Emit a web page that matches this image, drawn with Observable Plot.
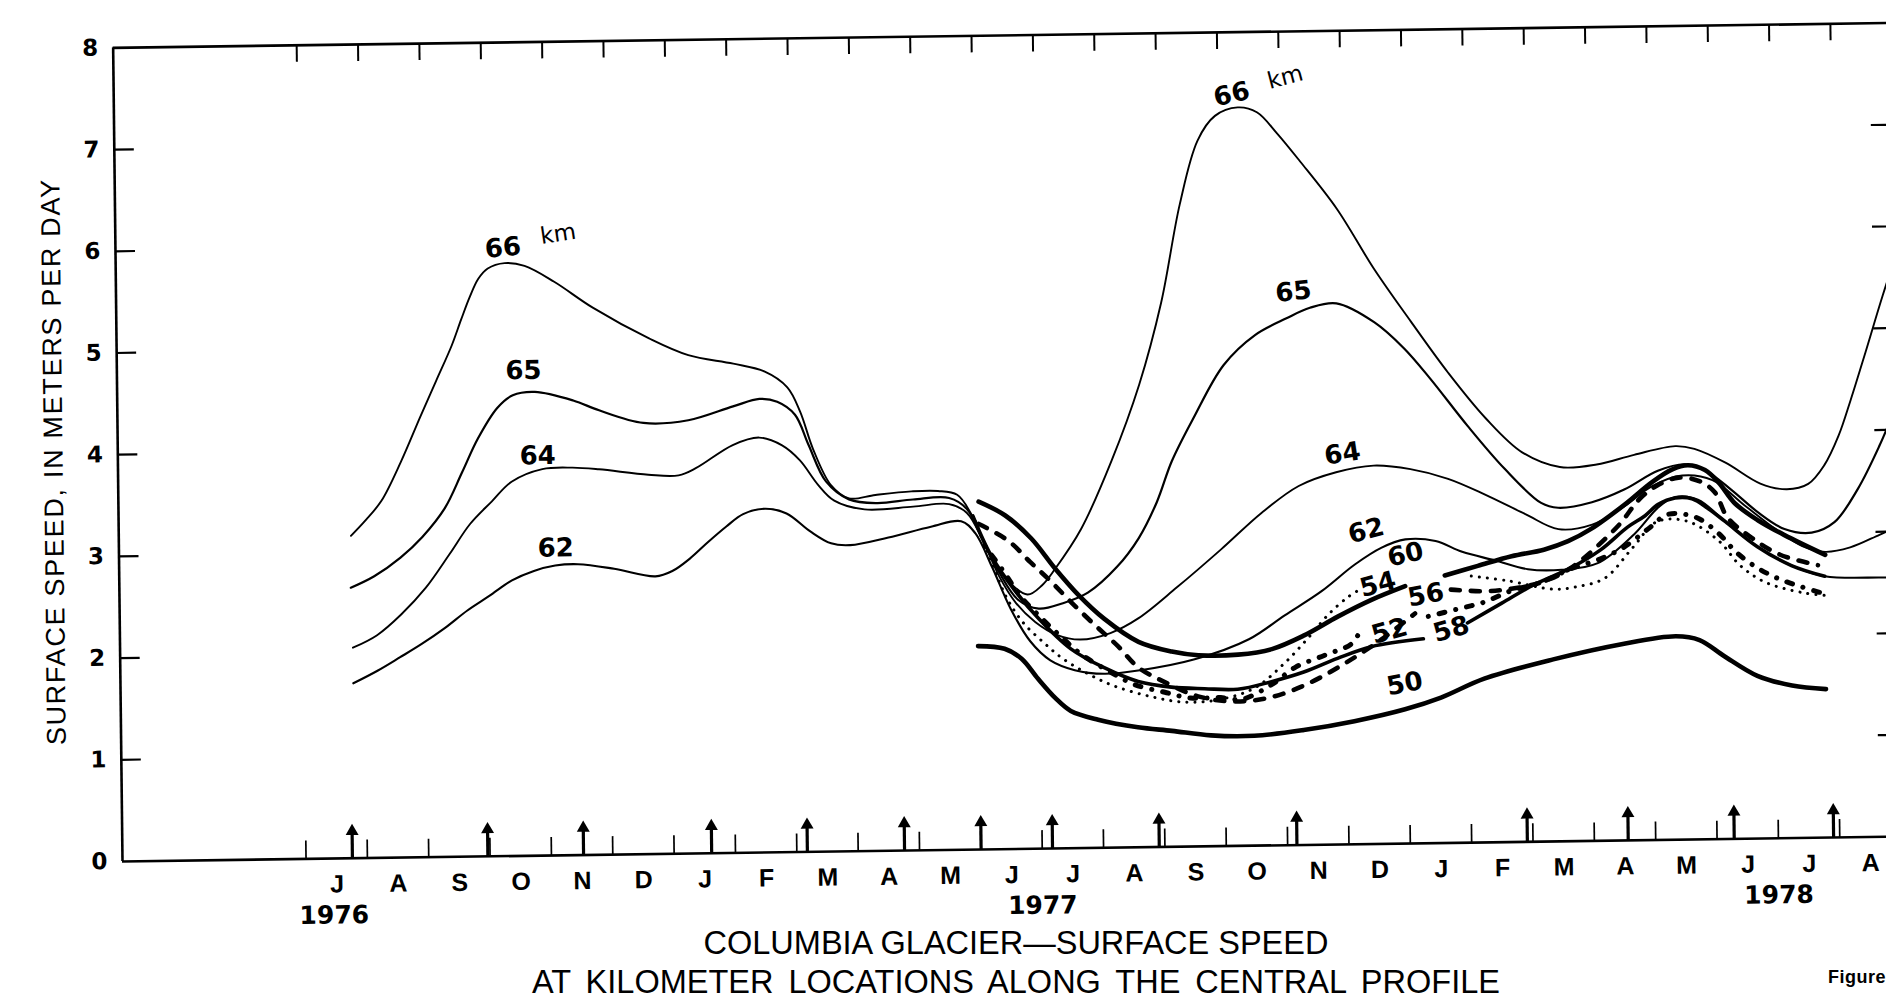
<!DOCTYPE html>
<html><head><meta charset="utf-8">
<script src="https://cdn.jsdelivr.net/npm/d3@7"></script>
<script src="https://cdn.jsdelivr.net/npm/@observablehq/plot@0.6"></script>
<style>
html,body{margin:0;padding:0;background:#fff;overflow:hidden;width:1886px;height:998px;}
body{position:relative;font-family:"Liberation Sans",Arial,Helvetica,sans-serif;color:#000;}
#wrap{position:absolute;left:0;top:0;width:1924px;height:940px;transform-origin:122px 861px;transform:matrix(1,-0.014,0.0115,1,0,0);}
#chart svg{display:block;max-width:none;}
.cap{position:absolute;left:416px;width:1200px;text-align:center;font-size:32.5px;line-height:30px;white-space:nowrap;}
#cap1{top:928px;}
#cap2{top:967px;word-spacing:6px;}
#fig{position:absolute;left:1828px;top:968px;font-size:18px;font-weight:bold;line-height:18px;letter-spacing:0.5px;white-space:nowrap;}
</style></head>
<body>
<div id="wrap"><div id="chart"></div></div>
<div class="cap" id="cap1">COLUMBIA GLACIER—SURFACE SPEED</div>
<div class="cap" id="cap2">AT KILOMETER LOCATIONS ALONG THE CENTRAL PROFILE</div>
<div id="fig">Figure</div>
<script>
// ---- data: [decimal year, surface speed m/day] ----
const km66 = [[1976.566,3.17],[1976.586,3.32],[1976.608,3.51],[1976.635,3.89],[1976.662,4.33],[1976.684,4.68],[1976.706,5.03],[1976.719,5.28],[1976.731,5.50],[1976.743,5.68],[1976.756,5.78],[1976.779,5.83],[1976.806,5.80],[1976.846,5.64],[1976.898,5.38],[1976.974,5.07],[1977.027,4.90],[1977.088,4.81],[1977.130,4.73],[1977.161,4.57],[1977.178,4.33],[1977.195,3.96],[1977.219,3.60],[1977.243,3.47],[1977.279,3.50],[1977.328,3.53],[1977.364,3.53],[1977.390,3.49],[1977.408,3.31],[1977.430,2.95],[1977.455,2.66],[1977.484,2.50],[1977.504,2.59],[1977.522,2.75],[1977.558,3.14],[1977.600,3.80],[1977.639,4.55],[1977.670,5.35],[1977.697,6.32],[1977.722,6.94],[1977.746,7.18],[1977.777,7.26],[1977.803,7.21],[1977.830,7.00],[1977.861,6.72],[1977.910,6.25],[1977.960,5.65],[1978.009,5.13],[1978.059,4.62],[1978.109,4.17],[1978.158,3.83],[1978.209,3.68],[1978.259,3.70],[1978.310,3.79],[1978.366,3.87],[1978.392,3.84],[1978.434,3.70],[1978.481,3.49],[1978.517,3.43],[1978.546,3.48],[1978.568,3.66],[1978.588,3.95],[1978.605,4.30],[1978.626,4.77],[1978.650,5.32],[1978.674,5.83]];
const km65 = [[1976.565,2.66],[1976.597,2.77],[1976.633,2.95],[1976.663,3.15],[1976.694,3.43],[1976.718,3.78],[1976.740,4.11],[1976.767,4.41],[1976.788,4.53],[1976.818,4.56],[1976.870,4.47],[1976.905,4.37],[1976.965,4.24],[1977.026,4.26],[1977.087,4.39],[1977.123,4.46],[1977.147,4.43],[1977.171,4.30],[1977.189,4.00],[1977.212,3.64],[1977.243,3.46],[1977.281,3.42],[1977.330,3.45],[1977.379,3.46],[1977.403,3.35],[1977.424,3.05],[1977.446,2.72],[1977.471,2.45],[1977.499,2.36],[1977.532,2.41],[1977.566,2.51],[1977.606,2.76],[1977.636,3.04],[1977.661,3.39],[1977.682,3.79],[1977.712,4.21],[1977.754,4.73],[1977.797,5.02],[1977.840,5.18],[1977.872,5.28],[1977.908,5.32],[1977.959,5.13],[1977.999,4.87],[1978.034,4.57],[1978.084,4.10],[1978.134,3.67],[1978.183,3.33],[1978.206,3.28],[1978.252,3.33],[1978.296,3.45],[1978.342,3.63],[1978.379,3.69],[1978.408,3.62],[1978.442,3.43],[1978.477,3.21],[1978.513,3.04],[1978.550,3.00],[1978.581,3.10],[1978.613,3.42],[1978.643,3.84],[1978.667,4.24]];
const km64 = [[1976.567,2.07],[1976.600,2.19],[1976.633,2.39],[1976.667,2.65],[1976.700,2.98],[1976.728,3.27],[1976.758,3.49],[1976.785,3.68],[1976.827,3.80],[1976.868,3.81],[1976.904,3.79],[1976.971,3.73],[1977.012,3.72],[1977.036,3.79],[1977.086,4.01],[1977.122,4.08],[1977.153,4.00],[1977.177,3.85],[1977.201,3.61],[1977.223,3.45],[1977.264,3.36],[1977.330,3.38],[1977.379,3.40],[1977.403,3.31],[1977.424,3.04],[1977.446,2.68],[1977.468,2.42],[1977.494,2.23],[1977.523,2.10],[1977.555,2.05],[1977.596,2.11],[1977.634,2.25],[1977.687,2.55],[1977.748,2.92],[1977.803,3.27],[1977.854,3.53],[1977.905,3.66],[1977.956,3.72],[1978.006,3.68],[1978.057,3.58],[1978.107,3.42],[1978.162,3.22],[1978.206,3.07],[1978.252,3.11],[1978.293,3.27],[1978.334,3.48],[1978.375,3.58],[1978.416,3.53],[1978.459,3.28],[1978.501,3.04],[1978.537,2.87],[1978.568,2.81],[1978.602,2.85],[1978.642,2.97],[1978.665,3.04]];
const km62 = [[1976.567,1.72],[1976.600,1.84],[1976.631,1.97],[1976.661,2.10],[1976.692,2.25],[1976.723,2.42],[1976.753,2.56],[1976.784,2.71],[1976.814,2.80],[1976.843,2.85],[1976.874,2.86],[1976.923,2.81],[1976.979,2.73],[1977.002,2.78],[1977.026,2.90],[1977.051,3.06],[1977.076,3.21],[1977.099,3.33],[1977.129,3.38],[1977.158,3.33],[1977.190,3.15],[1977.218,3.03],[1977.244,3.01],[1977.296,3.08],[1977.354,3.18],[1977.395,3.23],[1977.414,3.11],[1977.436,2.78],[1977.461,2.36],[1977.487,2.04],[1977.514,1.85],[1977.547,1.75],[1977.587,1.71],[1977.636,1.74],[1977.710,1.84],[1977.784,2.03],[1977.833,2.26],[1977.883,2.49],[1977.929,2.75],[1977.965,2.91],[1977.998,2.99],[1978.039,2.97],[1978.075,2.86],[1978.120,2.77],[1978.164,2.68],[1978.210,2.67],[1978.259,2.73],[1978.309,3.01],[1978.342,3.27],[1978.365,3.37],[1978.396,3.34],[1978.433,3.12],[1978.476,2.87],[1978.522,2.68],[1978.567,2.57],[1978.641,2.55],[1978.664,2.55]];
const km60 = [[1977.419,3.42],[1977.455,3.28],[1977.490,3.05],[1977.521,2.76],[1977.553,2.49],[1977.588,2.25],[1977.634,2.02],[1977.679,1.92],[1977.715,1.88],[1977.769,1.88],[1977.815,1.93],[1977.859,2.06],[1977.905,2.24],[1977.951,2.40],[1977.997,2.53],[1978.024,null],[1978.051,2.63],[1978.096,2.72],[1978.142,2.81],[1978.186,2.87],[1978.219,2.95],[1978.251,3.07],[1978.296,3.30],[1978.334,3.52],[1978.361,3.64],[1978.383,3.68],[1978.406,3.63],[1978.424,3.51],[1978.446,3.30],[1978.477,3.13],[1978.513,2.98],[1978.568,2.78]];
const km58 = [[1977.411,3.28],[1977.435,2.89],[1977.467,2.54],[1977.499,2.26],[1977.542,1.96],[1977.587,1.77],[1977.633,1.63],[1977.678,1.57],[1977.723,1.55],[1977.768,1.54],[1977.814,1.61],[1977.858,1.70],[1977.904,1.83],[1977.950,1.94],[1978.021,2.01],[1978.050,null],[1978.081,2.16],[1978.128,2.35],[1978.170,2.52],[1978.223,2.69],[1978.263,2.86],[1978.300,3.08],[1978.324,3.19],[1978.342,3.30],[1978.365,3.36],[1978.388,3.35],[1978.410,3.25],[1978.433,3.12],[1978.476,2.87],[1978.522,2.68],[1978.567,2.57]];
const km56 = [[1977.419,3.20],[1977.459,3.03],[1977.488,2.82],[1977.514,2.64],[1977.543,2.42],[1977.575,2.19],[1977.606,1.98],[1977.633,1.77],[1977.669,1.62],[1977.717,1.47],[1977.766,1.42],[1977.815,1.46],[1977.865,1.59],[1977.914,1.78],[1977.964,2.01],[1978.010,2.26],[1978.035,null],[1978.059,2.49],[1978.105,2.47],[1978.141,2.49],[1978.182,2.55],[1978.223,2.69],[1978.288,3.10],[1978.316,3.35],[1978.342,3.49],[1978.370,3.56],[1978.399,3.52],[1978.419,3.41],[1978.436,3.16],[1978.468,2.96],[1978.506,2.79],[1978.558,2.68]];
const km54 = [[1977.414,3.23],[1977.435,2.84],[1977.455,2.48],[1977.477,2.23],[1977.506,2.02],[1977.530,1.87],[1977.563,1.72],[1977.600,1.59],[1977.650,1.48],[1977.696,1.42],[1977.742,1.44],[1977.791,1.55],[1977.832,1.79],[1977.864,2.03],[1977.892,2.26],[1977.919,2.43],[1977.937,2.51],[1978.010,null],[1978.087,2.62],[1978.136,2.57],[1978.198,2.48],[1978.229,2.50],[1978.268,2.58],[1978.307,2.88],[1978.340,3.13],[1978.381,3.13],[1978.424,2.93],[1978.452,2.69],[1978.486,2.52],[1978.538,2.41],[1978.570,2.38]];
const km52 = [[1977.427,2.98],[1977.449,2.76],[1977.475,2.48],[1977.502,2.27],[1977.529,2.08],[1977.557,1.90],[1977.597,1.72],[1977.628,1.60],[1977.669,1.52],[1977.704,1.46],[1977.745,1.46],[1977.773,1.44],[1977.814,1.58],[1977.847,1.75],[1977.886,1.86],[1977.923,1.97],[1977.934,2.08],[1977.980,null],[1978.028,2.23],[1978.069,2.30],[1978.103,2.36],[1978.141,2.47],[1978.182,2.55],[1978.223,2.68],[1978.262,2.77],[1978.294,2.88],[1978.328,3.06],[1978.355,3.20],[1978.392,3.17],[1978.423,3.01],[1978.447,2.82],[1978.476,2.66],[1978.505,2.55],[1978.535,2.47],[1978.570,2.39]];
const km50 = [[1977.416,2.00],[1977.452,1.97],[1977.475,1.87],[1977.497,1.67],[1977.520,1.48],[1977.541,1.35],[1977.578,1.26],[1977.632,1.18],[1977.678,1.14],[1977.731,1.09],[1977.790,1.08],[1977.857,1.13],[1977.926,1.21],[1977.995,1.32],[1978.044,1.43],[1978.103,1.61],[1978.197,1.79],[1978.290,1.93],[1978.364,2.00],[1978.396,1.96],[1978.429,1.80],[1978.474,1.60],[1978.521,1.50],[1978.567,1.46]];

// survey (measurement) dates, shown as arrows on the time axis
const surveyDates = [1976.563,1976.747,1976.877,1977.051,1977.181,1977.313,1977.417,1977.514,1977.659,1977.846,1978.159,1978.296,1978.440,1978.575];
// month tick labels, July 1976 .. August 1978
const monthLabels = ["J","A","S","O","N","D","J","F","M","A","M","J","J","A","S","O","N","D","J","F","M","A","M","J","J","A"];
const yearLabels = ["1976","1977","1978"];
const yearLabelAt = [1976.5375,1977.5,1978.5];
const speedTicks = [0,1,2,3,4,5,6,7,8];
const curveLabels = [
  {text:"66",year:1976.777,speed:5.98},{text:"65",year:1976.803,speed:4.77},
  {text:"64",year:1976.821,speed:3.93},{text:"62",year:1976.844,speed:3.02},
  {text:"66",year:1977.769,speed:7.39},{text:"65",year:1977.850,speed:5.44},
  {text:"64",year:1977.914,speed:3.84},{text:"62",year:1977.945,speed:3.08},
  {text:"54",year:1977.960,speed:2.55},{text:"60",year:1977.998,speed:2.84},
  {text:"56",year:1978.025,speed:2.44},{text:"52",year:1977.975,speed:2.09},
  {text:"58",year:1978.059,speed:2.10},{text:"50",year:1977.995,speed:1.57}
];
const unitLabels = [{text:"km",year:1976.852,speed:6.11},{text:"km",year:1977.842,speed:7.55}];

// ---- layout / style ----
const labelAngles = [-5,0,0,0,-12,-5,-8,-14,-14,-12,-10,-15,-15,-10];
const unitAngles = [-8,-14];
const W = 1924, H = 940, ML = 122, MR = 20, MT = 47.4, MB = 79;
const xDomain = [1976.2507, 1978.6713];
const xPerPx = (xDomain[1]-xDomain[0])/(W-ML-MR);
const yPerPx = 8/(H-MT-MB);
const monthStarts = monthLabels.map((_, i) => 1976.5 + i/12);
const monthMids = monthLabels.map((_, i) => 1976.5 + (i+0.5)/12);

const lineStyles = {
  "66": {strokeWidth: 1.9},
  "65": {strokeWidth: 2.2},
  "64": {strokeWidth: 1.9},
  "62": {strokeWidth: 2.1},
  "54": {strokeWidth: 3, strokeDasharray: "0.1,8", strokeLinecap: "round"},
  "52": {strokeWidth: 5, strokeDasharray: "0.1,11,6,11", strokeLinecap: "round"},
  "56": {strokeWidth: 4.6, strokeDasharray: "9,11", strokeLinecap: "round"},
  "58": {strokeWidth: 3.6},
  "60": {strokeWidth: 4.6},
  "50": {strokeWidth: 4.6}
};
const seriesList = [["66",km66],["65",km65],["64",km64],["62",km62],["54",km54],["52",km52],["56",km56],["58",km58],["60",km60],["50",km50]];

const sans = '"Liberation Sans", Arial, Helvetica, sans-serif';
const wide = '"DejaVu Sans", Verdana, sans-serif';

const chart = Plot.plot({
  width: W, height: H,
  marginLeft: ML, marginRight: MR, marginTop: MT, marginBottom: MB,
  x: {type: "linear", domain: xDomain, axis: null},
  y: {domain: [0, 8], axis: null},
  style: {background: "white", color: "black", fontFamily: sans, overflow: "visible", maxWidth: "none"},
  marks: [
    // frame
    Plot.ruleY([0, 8], {x1: xDomain[0], x2: xDomain[1], stroke: "black", strokeWidth: 2.6}),
    Plot.ruleX([xDomain[0], xDomain[1]], {y1: 0, y2: 8, stroke: "black", strokeWidth: 2.6}),
    // y ticks left and right (inward)
    Plot.ruleY(speedTicks.slice(1, 8), {x1: xDomain[0], x2: xDomain[0] + 20*xPerPx, stroke: "black", strokeWidth: 2.2}),
    Plot.ruleY(speedTicks.slice(1, 8), {x1: xDomain[1], x2: xDomain[1] - 25*xPerPx, stroke: "black", strokeWidth: 2.2}),
    // month ticks top and bottom
    Plot.ruleX(monthStarts, {y1: 8, y2: 8 - 17*yPerPx, stroke: "black", strokeWidth: 2}),
    Plot.ruleX(monthStarts, {y1: 0, y2: 18*yPerPx, stroke: "black", strokeWidth: 1.7}),
    // survey arrows
    Plot.ruleX(surveyDates, {y1: 0, y2: 25*yPerPx, stroke: "black", strokeWidth: 3.2}),
    Plot.dot(surveyDates, {x: d => d, y: 27*yPerPx, symbol: "triangle", r: 4.8, fill: "black", stroke: "none"}),
    // curves
    ...seriesList.map(([k, arr]) => Plot.line(arr, {
      x: d => d[0], y: d => d[1], curve: "catmull-rom", stroke: "black", fill: "none",
      clip: true, strokeLinejoin: "round", ...lineStyles[k]
    })),
    // curve labels
    Plot.text(curveLabels, {x: "year", y: "speed", text: "text", rotate: (d, i) => labelAngles[i],
      fontFamily: wide, fontWeight: "bold", fontSize: 26, fill: "black"}),
    Plot.text(unitLabels, {x: "year", y: "speed", text: "text", rotate: (d, i) => unitAngles[i],
      fontFamily: wide, fontSize: 23, fill: "black"}),
    // y tick labels
    Plot.text(speedTicks, {x: xDomain[0], y: d => d, text: d => String(d), dx: -15, textAnchor: "end",
      fontFamily: wide, fontWeight: "bold", fontSize: 23, fill: "black"}),
    // month labels
    Plot.text(monthLabels, {x: (d, i) => monthMids[i], y: 0, text: d => d, dy: 26,
      fontWeight: "bold", fontSize: 25, fill: "black"}),
    // year labels
    Plot.text(yearLabels, {x: (d, i) => yearLabelAt[i], y: 0, text: d => d, dy: 57,
      fontFamily: wide, fontWeight: "bold", fontSize: 25, fill: "black"}),
    // y axis title
    Plot.text(["SURFACE SPEED, IN METERS PER DAY"], {x: xDomain[0], y: 3.94, text: d => d, dx: -64,
      rotate: -90, fontSize: 27, fill: "black"})
  ]
});
document.getElementById("chart").appendChild(chart);
d3.select(chart).selectAll("text").filter(function() { return this.textContent.startsWith("SURFACE"); })
  .attr("letter-spacing", "1.7px");
</script>
</body></html>
